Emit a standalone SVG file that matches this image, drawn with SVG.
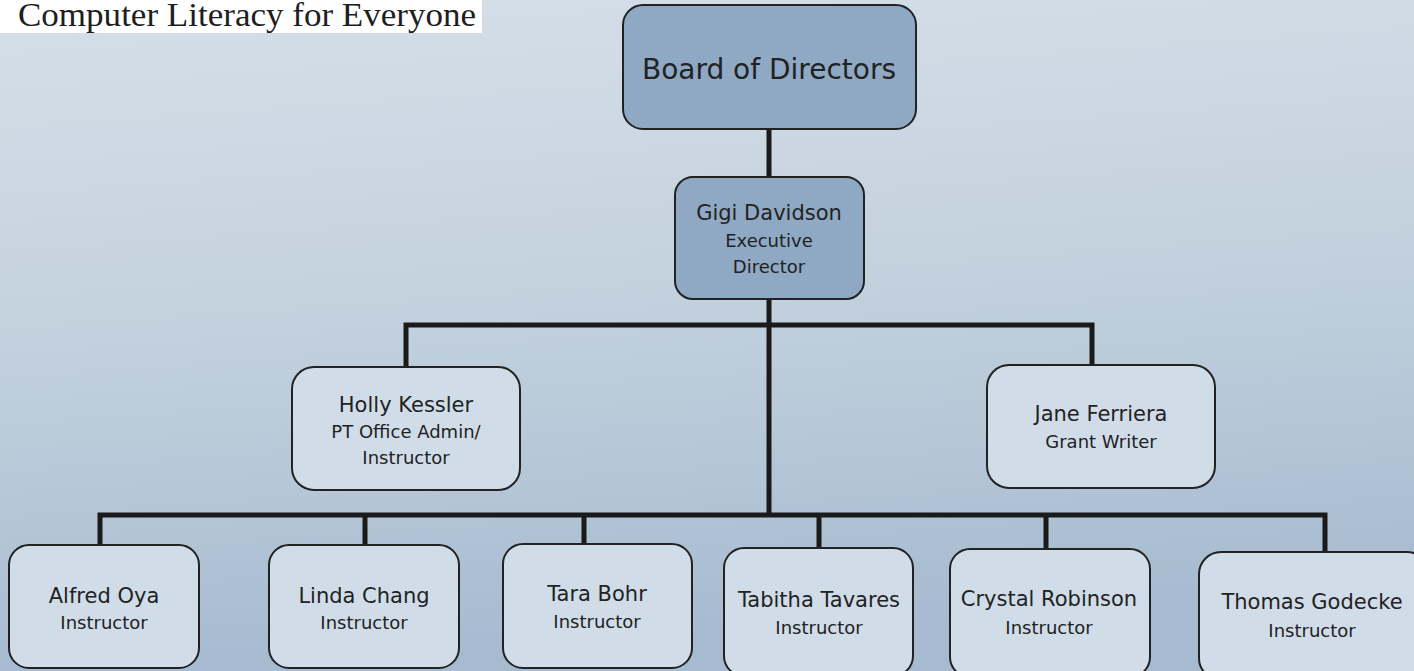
<svg xmlns="http://www.w3.org/2000/svg" width="1414" height="671" viewBox="0 0 1414 671">
<defs>
<linearGradient id="bg" x1="0" y1="0" x2="0.15" y2="1">
<stop offset="0" stop-color="#d5dfe8"/>
<stop offset="0.5" stop-color="#c3d1de"/>
<stop offset="1" stop-color="#a6bbd0"/>
</linearGradient>
<style>
.box{fill:#d0dde9;stroke:#222;stroke-width:2}
.dark{fill:#8fa9c4;stroke:#222;stroke-width:2}
.t{font-family:"DejaVu Sans",Verdana,sans-serif;fill:#222;text-anchor:middle}
.n{font-size:21px}
.r{font-size:18px}
.c{stroke:#1a1a1a;stroke-width:5;fill:none}
</style>
</defs>
<rect width="1414" height="671" fill="url(#bg)"/>
<g id="title">
<rect x="0" y="0" width="482" height="33" fill="#ffffff"/>
<text x="18" y="26" font-family="Liberation Serif,serif" font-size="33" fill="#1e1e1e" textLength="458" lengthAdjust="spacingAndGlyphs">Computer Literacy for Everyone</text>
</g>
<g id="connectors">
<path class="c" d="M769 129V515"/>
<path class="c" d="M406 367V325H1092V365"/>
<path class="c" d="M100 545V515H1325V552"/>
<path class="c" d="M365 515V545M584 515V544M819 515V548M1046 515V549"/>
</g>
<g id="board">
<rect class="dark" x="623" y="5" width="293" height="124" rx="20"/>
<text class="t" x="769" y="79" font-size="28">Board of Directors</text>
</g>
<g id="gigi">
<rect class="dark" x="675" y="177" width="189" height="122" rx="18"/>
<text class="t n" x="769" y="220">Gigi Davidson</text>
<text class="t r" x="769" y="247">Executive</text>
<text class="t r" x="769" y="273">Director</text>
</g>
<g id="holly">
<rect class="box" x="292" y="367" width="228" height="123" rx="22"/>
<text class="t n" x="406" y="412">Holly Kessler</text>
<text class="t r" x="406" y="438">PT Office Admin/</text>
<text class="t r" x="406" y="464">Instructor</text>
</g>
<g id="jane">
<rect class="box" x="987" y="365" width="228" height="123" rx="22"/>
<text class="t n" x="1101" y="421">Jane Ferriera</text>
<text class="t r" x="1101" y="448">Grant Writer</text>
</g>
<g id="alfred">
<rect class="box" x="9" y="545" width="190" height="123" rx="20"/>
<text class="t n" x="104" y="603">Alfred Oya</text>
<text class="t r" x="104" y="629">Instructor</text>
</g>
<g id="linda">
<rect class="box" x="269" y="545" width="190" height="123" rx="20"/>
<text class="t n" x="364" y="603">Linda Chang</text>
<text class="t r" x="364" y="629">Instructor</text>
</g>
<g id="tara">
<rect class="box" x="503" y="544" width="189" height="124" rx="20"/>
<text class="t n" x="597" y="601">Tara Bohr</text>
<text class="t r" x="597" y="628">Instructor</text>
</g>
<g id="tabitha">
<rect class="box" x="724" y="548" width="189" height="128" rx="20"/>
<text class="t n" x="819" y="607">Tabitha Tavares</text>
<text class="t r" x="819" y="634">Instructor</text>
</g>
<g id="crystal">
<rect class="box" x="950" y="549" width="200" height="128" rx="20"/>
<text class="t n" x="1049" y="606">Crystal Robinson</text>
<text class="t r" x="1049" y="634">Instructor</text>
</g>
<g id="thomas">
<rect class="box" x="1199" y="552" width="230" height="128" rx="22"/>
<text class="t n" x="1312" y="609">Thomas Godecke</text>
<text class="t r" x="1312" y="637">Instructor</text>
</g>
</svg>
